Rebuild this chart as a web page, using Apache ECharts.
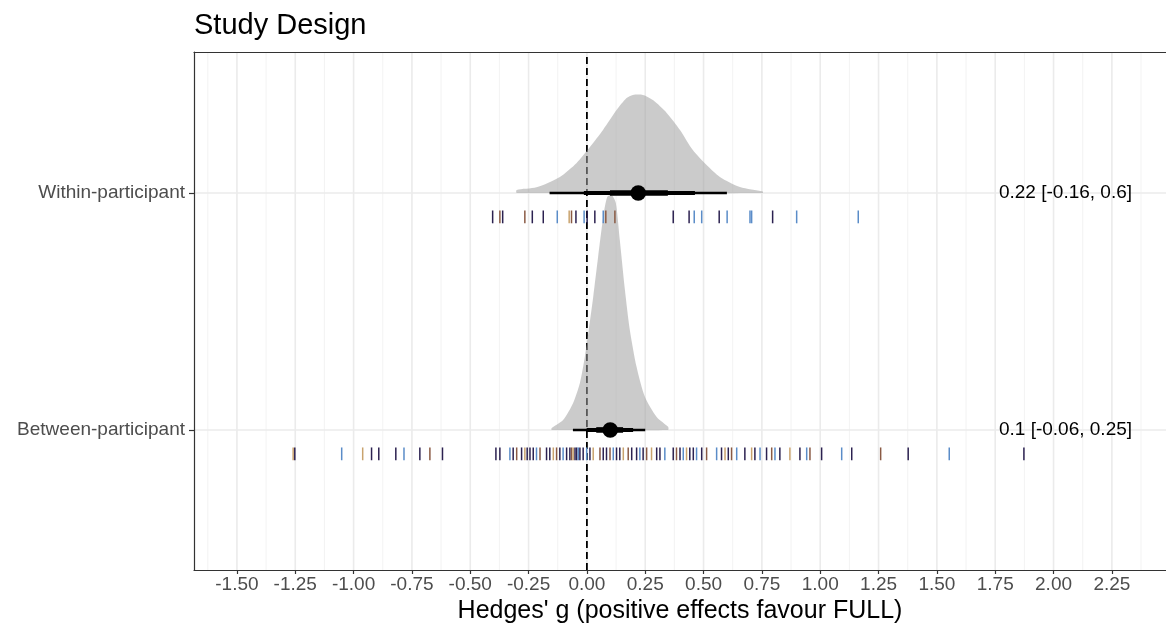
<!DOCTYPE html>
<html><head><meta charset="utf-8">
<script src="https://cdn.jsdelivr.net/npm/echarts@6/dist/echarts.min.js"></script>
<style>html,body{margin:0;padding:0;background:#fff}#c{width:1166px;height:629px}</style>
</head><body><div id="c"></div>
<script>
// ---- data ----
const categories = ['Between-participant', 'Within-participant']; // y = 1, 2
const xTicks = [-1.5,-1.25,-1,-0.75,-0.5,-0.25,0,0.25,0.5,0.75,1,1.25,1.5,1.75,2,2.25];
const xMinorTicks = [-1.625,-1.375,-1.125,-0.875,-0.625,-0.375,-0.125,0.125,0.375,0.625,0.875,1.125,1.375,1.625,1.875,2.125,2.375];

const withinDensX = [-0.301,-0.216,-0.116,-0.044,0.013,0.069,0.127,0.170,0.197,0.240,0.283,0.342,0.399,0.454,0.513,0.570,0.656,0.754];
const withinDensH = [0.013,0.024,0.068,0.127,0.194,0.266,0.350,0.401,0.414,0.414,0.392,0.338,0.266,0.181,0.118,0.068,0.025,0.006];
const betweenDensX = [-0.151,-0.102,-0.059,-0.030,-0.009,0.006,0.027,0.048,0.070,0.087,0.106,0.124,0.141,0.163,0.184,0.213,0.249,0.299,0.348];
const betweenDensH = [0.008,0.042,0.114,0.198,0.308,0.409,0.561,0.730,0.899,0.983,0.992,0.958,0.802,0.591,0.422,0.266,0.139,0.055,0.013];

const pointEst = [0.10, 0.22];
const ci95Low = [-0.06, -0.16], ci95High = [0.25, 0.60];
const ci80Low = [-0.001, -0.013], ci80High = [0.198, 0.463];
const ci50Low = [0.04, 0.099], ci50High = [0.155, 0.347];
const estLabels = ['0.1 [-0.06, 0.25]', '0.22 [-0.16, 0.6]'];
const estLabelX = 1.766;

const withinRug = [-0.404,-0.373,-0.361,-0.266,-0.234,-0.187,-0.127,-0.076,-0.066,-0.047,-0.012,0.001,0.034,0.070,0.081,0.120,0.370,0.438,0.460,0.492,0.567,0.601,0.699,0.706,0.796,0.899,1.163];
const withinRugCol = [0,1,0,1,0,0,2,3,1,0,2,0,0,2,1,1,0,0,2,2,0,2,2,2,0,2,2];
const betweenRug = [-1.259,-1.252,-1.051,-0.961,-0.923,-0.892,-0.819,-0.784,-0.716,-0.673,-0.619,
 -0.390,-0.373,-0.330,-0.316,-0.301,-0.280,-0.266,-0.256,-0.244,-0.230,-0.216,-0.201,-0.173,-0.159,-0.144,-0.130,-0.116,-0.102,-0.087,-0.073,-0.066,-0.059,-0.051,-0.044,-0.037,-0.030,
 -0.016,-0.001,0.013,0.027,0.056,0.070,0.084,0.099,0.113,0.127,0.141,0.156,0.177,0.192,0.213,0.227,0.241,0.256,0.277,0.299,0.313,0.334,
 0.370,0.384,0.399,0.413,0.427,0.441,0.456,0.470,0.492,0.513,
 0.556,0.577,0.592,0.606,0.620,0.642,0.677,0.706,0.720,0.742,0.770,0.792,0.806,0.827,0.870,0.913,0.942,0.956,1.006,1.092,1.135,1.259,1.377,1.553,1.873];
const betweenRugCol = ('30230002010' + '00201030002100310200130020' + '0203100120031002013002' + '0102300201' + '2030120302012030210201020').split('').map(Number);

// ---- styles ----
const rugPalette = ['#2b2150', '#8a5a44', '#5a8cc8', '#c9a36e'];
const FONT = 'Liberation Sans, Arial, sans-serif';
const xMin = -1.684, xMax = 2.482, yMin = 0.409, yMax = 2.595;

const chart = echarts.init(document.getElementById('c'));

function vLineSeries(vals, stroke, width, z) {
  return {
    type: 'custom', z: z, silent: true,
    data: vals.map(v => [v, 1]),
    renderItem: (p, api) => {
      const a = api.coord([api.value(0), yMin]), b = api.coord([api.value(0), yMax]);
      return {type: 'line', shape: {x1: a[0], y1: a[1], x2: b[0], y2: b[1]}, style: {stroke: stroke, lineWidth: width}};
    }
  };
}

const densities = [[betweenDensX, betweenDensH], [withinDensX, withinDensH]];
const rugs = [[betweenRug, betweenRugCol], [withinRug, withinRugCol]];
const rugData = [];
rugs.forEach((r, i) => r[0].forEach((v, j) => rugData.push([v, i + 1, r[1][j] || 0])));

const option = {
  animation: false,
  backgroundColor: '#fff',
  title: {text: 'Study Design', left: 189, top: 6, textStyle: {fontSize: 29, fontWeight: 'normal', color: '#000', fontFamily: FONT}},
  grid: {left: 194, right: 0, top: 52, bottom: 59, containLabel: false},
  xAxis: [{
    type: 'value', min: xMin, max: xMax, z: 10,
    name: "Hedges' g (positive effects favour FULL)", nameLocation: 'middle', nameGap: 16,
    nameTextStyle: {fontSize: 25, color: '#000', fontFamily: FONT},
    axisLine: {show: true, onZero: false, lineStyle: {color: '#333', width: 1.2}},
    axisTick: {show: true, customValues: xTicks, length: 4, lineStyle: {color: '#333', width: 1.2}},
    axisLabel: {customValues: xTicks, formatter: v => v.toFixed(2), fontSize: 19, color: '#4d4d4d', margin: 5, fontFamily: FONT},
    splitLine: {show: false}
  }, {
    type: 'value', position: 'top', min: xMin, max: xMax, z: 10,
    axisLine: {show: true, onZero: false, lineStyle: {color: '#333', width: 1.2}},
    axisTick: {show: false}, axisLabel: {show: false}, splitLine: {show: false}
  }],
  yAxis: {
    type: 'value', min: yMin, max: yMax, z: 10,
    axisLine: {show: true, onZero: false, lineStyle: {color: '#333', width: 1.2}},
    axisTick: {show: true, customValues: [1, 2], length: 5, lineStyle: {color: '#333', width: 1.2}},
    axisLabel: {customValues: [1, 2], formatter: v => categories[Math.round(v) - 1], fontSize: 19, color: '#4d4d4d', margin: 9, fontFamily: FONT},
    splitLine: {show: false}
  },
  series: [
    vLineSeries(xMinorTicks, '#f3f3f3', 1, 1),
    vLineSeries(xTicks, '#ebebeb', 1.6, 1),
    {
      type: 'custom', z: 1, silent: true,
      data: [[0, 1], [0, 2]],
      renderItem: (p, api) => {
        const a = api.coord([xMin, api.value(1)]), b = api.coord([xMax, api.value(1)]);
        return {type: 'line', shape: {x1: a[0], y1: a[1], x2: b[0], y2: b[1]}, style: {stroke: '#ebebeb', lineWidth: 1.6}};
      }
    },
    {
      type: 'custom', z: 2, silent: true,
      data: [[0, 1]],
      renderItem: (p, api) => {
        const a = api.coord([api.value(0), yMin]), b = api.coord([api.value(0), yMax]);
        return {type: 'line', shape: {x1: a[0], y1: a[1], x2: b[0], y2: b[1]}, style: {stroke: '#000', lineWidth: 1.8, lineDash: [7, 4]}};
      }
    },
    {
      type: 'custom', z: 3, silent: true,
      data: [[0, 1], [0, 2]],
      renderItem: (p, api) => {
        const base = api.value(1);
        const d = densities[p.dataIndex];
        const pts = [api.coord([d[0][0], base])];
        d[0].forEach((x, k) => pts.push(api.coord([x, base + d[1][k]])));
        pts.push(api.coord([d[0][d[0].length - 1], base]));
        return {type: 'polygon', shape: {points: pts, smooth: 0.25}, style: {fill: 'rgba(160,160,160,0.55)', stroke: 'none'}};
      }
    },
    {
      type: 'custom', z: 4, silent: true,
      data: rugData,
      renderItem: (p, api) => {
        const c = api.coord([api.value(0), api.value(1)]);
        return {type: 'rect', shape: {x: c[0] - 0.75, y: c[1] + 17.5, width: 1.5, height: 12.8}, style: {fill: rugPalette[api.value(2)]}};
      }
    },
    {
      type: 'custom', z: 5, silent: true,
      data: [[0, 1], [0, 2]],
      renderItem: (p, api) => {
        const i = p.dataIndex, y = api.value(1);
        const seg = (lo, hi, w) => {
          const a = api.coord([lo, y]), b = api.coord([hi, y]);
          return {type: 'line', shape: {x1: a[0], y1: a[1], x2: b[0], y2: b[1]}, style: {stroke: '#000', lineWidth: w}};
        };
        const c = api.coord([pointEst[i], y]);
        return {type: 'group', children: [
          seg(ci95Low[i], ci95High[i], 2.4),
          seg(ci80Low[i], ci80High[i], 4),
          seg(ci50Low[i], ci50High[i], 5.6),
          {type: 'circle', shape: {cx: c[0], cy: c[1], r: 7.8}, style: {fill: '#000'}}
        ]};
      }
    },
    {
      type: 'custom', z: 5, silent: true,
      data: [[estLabelX, 1], [estLabelX, 2]],
      renderItem: (p, api) => {
        const c = api.coord([api.value(0), api.value(1)]);
        return {type: 'text', x: c[0], y: c[1], style: {text: estLabels[p.dataIndex], fill: '#000', font: '19px ' + FONT, textAlign: 'left', textVerticalAlign: 'middle'}};
      }
    }
  ]
};
chart.setOption(option);
</script>
</body></html>
